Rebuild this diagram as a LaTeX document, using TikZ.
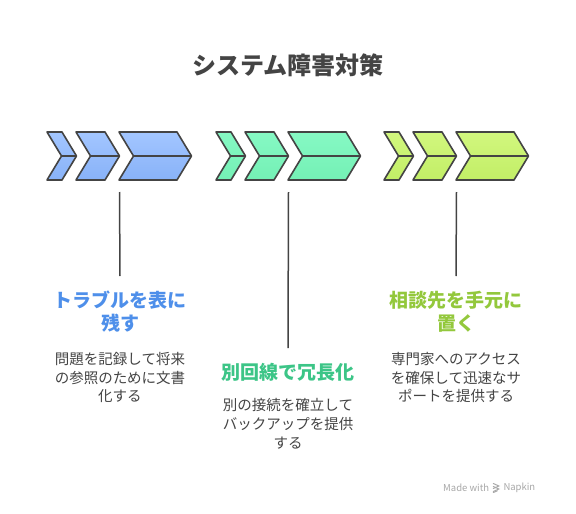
\documentclass[tikz,border=0pt]{standalone}
\usepackage{fontspec}
\setmainfont{Noto Sans CJK JP}
\definecolor{edge}{HTML}{444444}
\definecolor{txt}{HTML}{444444}
\definecolor{bluetop}{HTML}{A3C6FF}
\definecolor{bluebot}{HTML}{88B2F8}
\definecolor{greentop}{HTML}{86F9C4}
\definecolor{greenbot}{HTML}{74F0B5}
\definecolor{limetop}{HTML}{D2F77E}
\definecolor{limebot}{HTML}{C2EE66}
\definecolor{bluetxt}{HTML}{4E8FEA}
\definecolor{greentxt}{HTML}{3CC587}
\definecolor{limetxt}{HTML}{93C83C}
\definecolor{wmgray}{HTML}{A8A8A8}
\begin{document}
\begin{tikzpicture}[x=1pt,y=-1pt,
  chevbox/.style={draw=edge,line width=1.6pt,line join=round},
  midline/.style={draw=edge,line width=1.6pt},
  connector/.style={draw=edge,line width=1.5pt},
  headtxt/.style={font=\fontsize{19}{23}\selectfont\bfseries,align=center,inner sep=0pt},
  desctxt/.style={font=\fontsize{14.5}{18.5}\selectfont,text=txt,align=center,inner sep=0pt},
  wmtxt/.style={font=\fontsize{9.5}{11}\selectfont,text=wmgray,inner sep=0pt},
]
\useasboundingbox (0,0) rectangle (576,514);
\fill[white] (0,0) rectangle (576,514);

\node[font=\fontsize{24}{28}\selectfont\bfseries,text=txt,inner sep=0pt] (title) at (288,65) {システム障害対策};

\foreach \s/\ct/\cb/\n in {47/bluetop/bluebot/a,216/greentop/greenbot/b,384/limetop/limebot/c}{
  \foreach \l/\r in {0/15,29/58,72/130}{
    \path[chevbox,top color=\ct,bottom color=\cb]
      (\s+\l,132) -- (\s+\r,132) -- (\s+\r+14.5,156) -- (\s+\r,180) -- (\s+\l,180) -- (\s+\l+14.5,156) -- cycle;
    \draw[midline] (\s+\l+14.5,156) -- (\s+\r+14.5,156);
  }
  \coordinate (top\n) at (\s+72.5,192);
}

\node[headtxt,text=bluetxt] (ha) at (120,311.5) {トラブルを表に\\残す};
\node[desctxt] (da) at (120,377.5) {問題を記録して将来\\の参照のために文書\\化する};
\coordinate (enda) at (120,276);
\draw[connector] (topa) -- (enda);

\node[headtxt,text=greentxt] (hb) at (288,372) {別回線で冗長化};
\node[desctxt,font=\fontsize{14.5}{19}\selectfont] (db) at (288,424) {別の接続を確立して\\バックアップを提供\\する};
\coordinate (endb) at (288,348);
\draw[connector] (topb) -- (endb);

\node[headtxt,text=limetxt] (hc) at (456,311.5) {相談先を手元に\\置く};
\node[desctxt] (dc) at (456,377.5) {専門家へのアクセス\\を確保して迅速なサ\\ポートを提供する};
\coordinate (endc) at (456,276);
\draw[connector] (topc) -- (endc);

\node[wmtxt,anchor=west] (wma) at (443,488) {Made with};
\coordinate (icon) at ([xshift=7]wma.east);
\node[wmtxt,anchor=west] (wmb) at ([xshift=14]wma.east) {Napkin};
\begin{scope}[shift={(icon)},draw=wmgray,line width=1pt,line cap=round]
  \draw (-3,-4.5) -- (2.5,-2) -- (-3,0.5);
  \draw (-3,-1.5) -- (2.5,1) -- (-3,3.5);
  \draw (-3,4.5) -- (1,2.8);
\end{scope}
\end{tikzpicture}
\end{document}
